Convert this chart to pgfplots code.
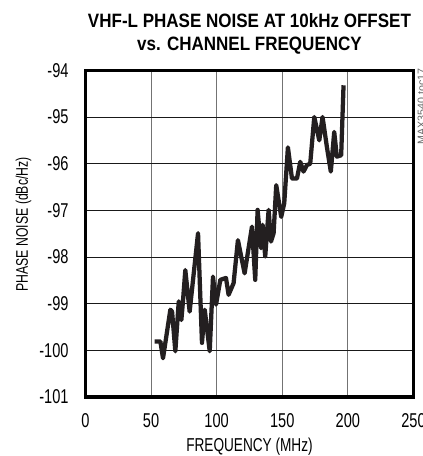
\documentclass[border=0pt]{standalone}
\usepackage{fontspec}
\setmainfont{Liberation Sans}[FakeStretch=0.73]
\newfontfamily\titlefont{Liberation Sans}[FakeStretch=0.88,BoldFont={* Bold}]
\newfontfamily\plainfont{Liberation Sans}
\usepackage{pgfplots}
\pgfplotsset{compat=1.18}
\definecolor{curve}{HTML}{231F20}
\begin{document}
\begin{tikzpicture}
\begin{axis}[
  scale only axis,
  width=246pt, height=245pt,
  xmin=0, xmax=250, ymin=-101, ymax=-94,
  enlargelimits=false,
  xtick={0,50,100,150,200,250},
  ytick={-101,-100,-99,-98,-97,-96,-95,-94},
  major tick length=0pt,
  grid=major,
  x grid style={black!55, line width=0.6pt},
  y grid style={black!90, line width=0.6pt},
  axis line style={line width=2.4pt},
  /pgf/number format/assume math mode=true,
  tick label style={font=\fontsize{15}{17}\selectfont, inner sep=0pt},
  xticklabel style={anchor=north, yshift=-12pt},
  yticklabel style={anchor=east, xshift=-12.5pt},
  xlabel={FREQUENCY (MHz)},
  ylabel={PHASE NOISE (dBc/Hz)},
  xlabel style={font=\fontsize{14}{16}\selectfont, at={(axis description cs:0.5,0)}, anchor=base, yshift=-41pt, inner sep=0pt},
  ylabel style={font=\fontsize{12.6}{14}\selectfont, at={(axis description cs:-0.189,0.5285)}, anchor=center, inner sep=0pt},
  clip=false,
]
\addplot[curve, line width=3.2pt, line join=round] coordinates {
(52.8,-99.81) (57.1,-99.81) (59.1,-100.17) (64.7,-99.13) (66,-99.17)
(68.5,-100.02) (71.1,-98.95) (73.1,-99.35) (74.3,-98.95) (76.1,-98.28)
(79.4,-99.17) (85.8,-97.49) (88.8,-99.84) (90.9,-99.13) (94.7,-100.02)
(97.2,-98.42) (99.5,-99.02) (102.8,-98.49) (107.1,-98.45) (109.1,-98.81)
(112.9,-98.56) (116.2,-97.64) (121.3,-98.35) (126.9,-97.35) (129.4,-98.49)
(131.2,-96.99) (133.8,-97.81) (135,-97.31) (137,-97.99) (139.6,-96.99)
(141.4,-97.67) (143.4,-97.49) (145.4,-96.46) (149.2,-97.14) (151.5,-96.85)
(154.3,-95.65) (157.4,-96.32) (161.2,-96.32) (163.7,-95.96) (166.2,-96.17)
(168.8,-96.03) (171.3,-96.0) (174.4,-95.0) (178.2,-95.5) (180.7,-95.0)
(184,-95.64) (187,-96.17) (189.6,-95.32) (191.6,-95.85) (194.9,-95.82)
(196.7,-94.32)
};
\node[anchor=base, font=\titlefont\bfseries\fontsize{14.5}{16}\selectfont, inner sep=0pt] at (rel axis cs:0.5,1) [yshift=32.5pt] {VHF-L PHASE NOISE AT 10kHz OFFSET};
\node[anchor=base, font=\titlefont\bfseries\fontsize{14.5}{16}\selectfont, inner sep=0pt] at (rel axis cs:0.5,1) [yshift=15pt] {vs. CHANNEL FREQUENCY};
\node[xshift=6pt, rotate=90, anchor=center, font=\plainfont\fontsize{8}{9}\selectfont, text=black!60, inner sep=0pt] at (rel axis cs:1,0.89) {MAX3540 toc17};
\end{axis}
\pgfresetboundingbox
\useasboundingbox (-64.1pt,-44.25pt) rectangle (253.1pt,297.75pt);
\end{tikzpicture}
\end{document}
